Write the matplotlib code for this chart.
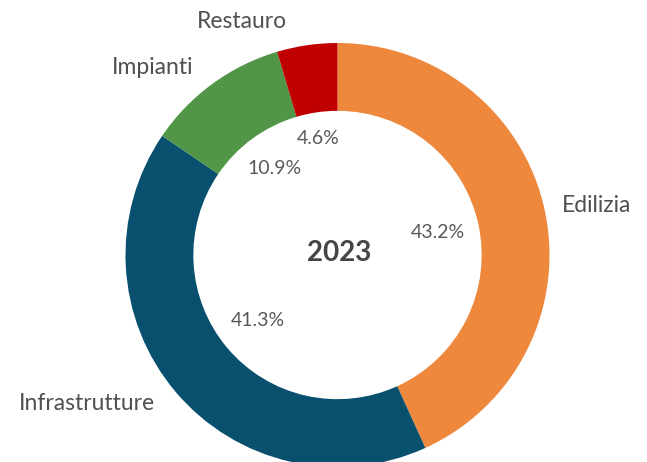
import matplotlib
matplotlib.use("Agg")
import matplotlib.pyplot as plt

categories = ["Edilizia", "Infrastrutture", "Impianti", "Restauro"]
values = [43.2, 41.3, 10.9, 4.6]
colors = ["#EE883D", "#08506E", "#519646", "#C00000"]
center_title = "2023"

W, H = 647, 462
fig = plt.figure(figsize=(W / 100, H / 100), dpi=100)
ax = fig.add_axes([0, 0, 1, 1])

cx, cy = 337.5, H - 255
R = 212
wedges, _ = ax.pie(values, colors=colors, startangle=90, counterclock=False,
                   radius=R, center=(cx, cy), frame=True,
                   wedgeprops=dict(width=R * 0.32, linewidth=0))
ax.set_xlim(0, W)
ax.set_ylim(0, H)
ax.set_aspect("equal")
ax.axis("off")

font = "Lato"
# outside labels (pixel positions)
label_pos = {"Edilizia": (597, 205), "Infrastrutture": (87, 403),
             "Impianti": (153, 67), "Restauro": (242, 21)}
for c in categories:
    x, y = label_pos[c]
    ax.text(x, H - y, c, ha="center", va="center", fontsize=16.5,
            color="#505050", family=font)

pct_pos = {"Edilizia": (438, 232), "Infrastrutture": (258, 320),
           "Impianti": (275, 168), "Restauro": (318, 139)}
for c, v in zip(categories, values):
    x, y = pct_pos[c]
    ax.text(x, H - y, f"{v:.1f}%", ha="center", va="center", fontsize=14,
            color="#595959", family=font)

ax.text(339, H - 253, center_title, ha="center", va="center", fontsize=20,
        fontweight="bold", color="#454545", family=font)

fig.savefig("out.png", dpi=100)
